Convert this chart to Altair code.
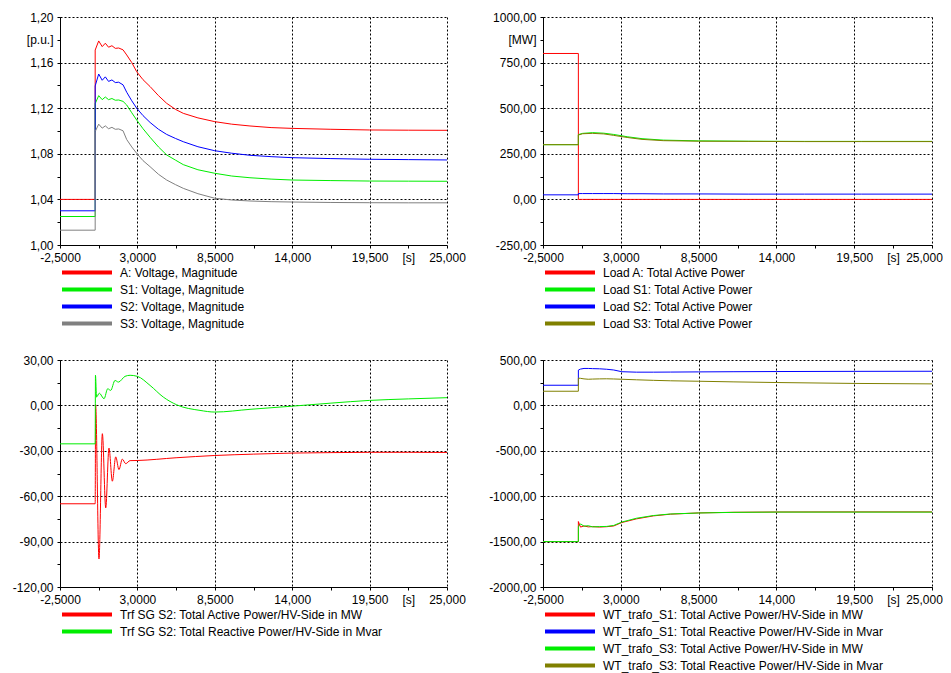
import altair as alt
import pandas as pd

FONT = "Liberation Sans"

# ---------------- axis ticks / labels ----------------
X_TICKS = [-2.5, 0.25, 3.0, 5.75, 8.5, 11.25, 14.0, 16.75, 19.5, 22.25, 25.0]
X_TEXT = ["-2,5000", "", "3,0000", "", "8,5000", "", "14,000", "", "19,500", "[s]", "25,000"]

V_TICKS = [1.00, 1.02, 1.04, 1.06, 1.08, 1.10, 1.12, 1.14, 1.16, 1.18, 1.20]
V_TEXT = ["1,00", "", "1,04", "", "1,08", "", "1,12", "", "1,16", "[p.u.]", "1,20"]

P_TICKS = [-250, -125, 0, 125, 250, 375, 500, 625, 750, 875, 1000]
P_TEXT = ["-250,00", "", "0,00", "", "250,00", "", "500,00", "", "750,00", "[MW]", "1000,00"]

SG_TICKS = [-120, -105, -90, -75, -60, -45, -30, -15, 0, 15, 30]
SG_TEXT = ["-120,00", "", "-90,00", "", "-60,00", "", "-30,00", "", "0,00", "", "30,00"]

WT_TICKS = [-2000, -1750, -1500, -1250, -1000, -750, -500, -250, 0, 250, 500]
WT_TEXT = ["-2000,00", "", "-1500,00", "", "-1000,00", "", "-500,00", "", "0,00", "", "500,00"]

# ---------------- top-left: voltages ----------------
V_NAMES = ["A: Voltage, Magnitude", "S1: Voltage, Magnitude",
           "S2: Voltage, Magnitude", "S3: Voltage, Magnitude"]
V_COLORS = ["#ff0000", "#00ee00", "#0000ff", "#808080"]
V_TIME = [-2.5, 0.0, 0.0, 0.25, 0.5, 0.72, 0.95, 1.19, 1.43, 1.67, 1.98, 2.24, 2.6, 2.95, 3.4,
          3.9, 4.5, 5.08, 5.7, 6.26, 7.3, 8.5, 9.7, 11.0, 12.5, 14.0, 16.75, 19.5, 22.25, 25.0]
V_A = [1.040, 1.040, 1.171, 1.179, 1.174, 1.177, 1.1735, 1.1748, 1.1725, 1.1728,
       1.1712, 1.1667, 1.160, 1.152, 1.145, 1.139, 1.131, 1.1243, 1.119, 1.1155,
       1.1115, 1.1082, 1.106, 1.1044, 1.103, 1.1023, 1.1015, 1.1009, 1.1007, 1.1006]
V_S1 = [1.025, 1.025, 1.124, 1.131, 1.1275, 1.1298, 1.1275, 1.1285, 1.127, 1.1272,
        1.126, 1.1228, 1.116, 1.1096, 1.102, 1.0945, 1.086, 1.079, 1.0745, 1.0705,
        1.066, 1.0629, 1.0605, 1.059, 1.0578, 1.057, 1.0565, 1.0561, 1.056, 1.0559]
V_S2 = [1.030, 1.030, 1.1395, 1.150, 1.1445, 1.1475, 1.1435, 1.1448, 1.1425, 1.1428,
        1.1405, 1.134, 1.1265, 1.120, 1.1135, 1.1075, 1.1015, 1.097, 1.0935, 1.0906,
        1.0862, 1.0827, 1.0805, 1.0787, 1.0775, 1.0766, 1.0758, 1.0752, 1.0749, 1.0746]
V_S3 = [1.013, 1.013, 1.0995, 1.106, 1.1025, 1.1045, 1.102, 1.1032, 1.1015, 1.1018,
        1.1002, 1.0925, 1.086, 1.0804, 1.074, 1.0687, 1.062, 1.057, 1.053, 1.0497,
        1.045, 1.041, 1.0395, 1.0386, 1.038, 1.0377, 1.0373, 1.0371, 1.037, 1.037]

# ---------------- top-right: load active power ----------------
P_NAMES = ["Load A: Total Active Power", "Load S1: Total Active Power",
           "Load S2: Total Active Power", "Load S3: Total Active Power"]
P_COLORS = ["#ff0000", "#00ee00", "#0000ff", "#808000"]
P_TIME = [-2.5, 0.0, 0.0, 0.3, 1.0, 1.8, 2.5, 3.5, 4.5, 6.0, 8.5, 12.0, 16.0, 20.0, 25.0]
P_A = [800, 800, 0, 0, 0, 0, 0, 0, 0, 0, 0, 0, 0, 0, 0]
P_S1 = [300, 300, 355, 362, 366, 363, 356, 343, 333, 325, 321, 319, 318, 318, 318]
P_S2 = [25, 25, 32, 32, 32, 32, 32, 31, 31, 30, 30, 29, 29, 29, 29]
P_S3 = [300, 300, 353, 360, 362, 359, 351, 339, 329, 322, 319, 318, 317, 317, 317]

# ---------------- bottom-left: Trf SG S2 ----------------
SG_NAMES = ["Trf SG S2: Total Active Power/HV-Side in MW",
            "Trf SG S2: Total Reactive Power/HV-Side in Mvar"]
SG_COLORS = ["#ff0000", "#00ee00"]
SG_P_TIME = [-2.5, 0.0, 0.03, 0.27, 0.51, 0.75, 0.98, 1.22, 1.46, 1.69, 1.93, 2.17, 2.48,
             3.0, 5.75, 8.5, 11.25, 14.0, 16.75, 19.5, 22.25, 25.0]
SG_P = [-65, -65, 0.5, -101.5, -18.7, -67.7, -28.2, -50.1, -34, -42.4, -35.5, -38.5, -36.5,
        -36.4, -34.6, -33.1, -32.2, -31.5, -31.2, -31.0, -31.0, -31.1]
SG_Q_TIME = [-2.5, 0.0, 0.02, 0.1, 0.29, 0.63, 0.89, 1.1, 1.41, 1.65, 2.12, 2.48, 3.0, 3.9,
             4.84, 5.79, 7.45, 8.5, 11.0, 14.0, 16.75, 19.5, 22.25, 25.0]
SG_Q = [-25.4, -25.4, 19.9, 5.5, 8.1, 4.4, 11.0, 9.9, 16.5, 15.4, 19.2, 19.9, 19.2, 13.2,
        5.5, 0.4, -3.3, -4.4, -2.6, -0.5, 1.5, 3.3, 4.3, 5.1]

# ---------------- bottom-right: WT transformers ----------------
WT_NAMES = ["WT_trafo_S1: Total Active Power/HV-Side in MW",
            "WT_trafo_S1: Total Reactive Power/HV-Side in Mvar",
            "WT_trafo_S3: Total Active Power/HV-Side in MW",
            "WT_trafo_S3: Total Reactive Power/HV-Side in Mvar"]
WT_COLORS = ["#ff0000", "#0000ff", "#00ee00", "#808000"]
WT_TIME = [-2.5, 0.0, 0.0, 0.15, 0.4, 0.7, 1.0, 1.5, 2.0, 2.5, 3.07, 4.1, 5.3, 6.5, 8.5,
           11.0, 14.0, 19.5, 25.0]
WT_P1 = [-1500, -1500, -1279, -1340, -1328, -1338, -1335, -1340, -1336, -1328, -1290,
         -1250, -1217, -1198, -1184, -1177, -1174, -1173, -1173]
WT_Q1 = [222, 222, 389, 400, 407, 407, 405, 403, 398, 390, 371, 366, 366, 367, 369, 371,
         373, 375, 376]
WT_P3 = [-1500, -1500, -1335, -1305, -1330, -1325, -1338, -1335, -1333, -1322, -1285,
         -1243, -1213, -1196, -1185, -1178, -1175, -1175, -1175]
WT_Q3 = [156, 156, 300, 298, 292, 288, 290, 292, 293, 291, 288, 282, 276, 271, 266, 259,
         252, 242, 237]


def near(v):
    return f"abs(datum.value - ({v})) < 1e-6"


def label_expr(vals, texts):
    parts = [f"{near(v)} ? '{t}'" for v, t in zip(vals, texts) if t]
    return " : ".join(parts) + " : ''"


def major_test(vals, texts):
    return " || ".join(near(v) for v, t in zip(vals, texts) if t and not t.startswith("["))


def cond_num(test, a, b):
    return {"condition": {"test": test, "value": a}, "value": b}


def panel(series, names, colors, yvals, ytexts, width, height, right_col, interp):
    frames = []
    for name, (tt, vv) in zip(names, series):
        frames.append(pd.DataFrame({"t": tt, "v": vv, "s": name, "i": list(range(len(tt)))}))
    df = pd.concat(frames, ignore_index=True)

    x_axis = alt.Axis(
        values=X_TICKS, labelExpr=label_expr(X_TICKS, X_TEXT), title=None,
        gridOpacity=cond_num(major_test(X_TICKS, X_TEXT), 1, 0),
        labelOffset=cond_num(near(25.0), -8, 0) if right_col else 0,
        labelFlush=False, labelOverlap=False,
    )
    y_axis = alt.Axis(
        values=yvals, labelExpr=label_expr(yvals, ytexts), title=None,
        gridOpacity=cond_num(major_test(yvals, ytexts), 1, 0),
        labelOverlap=False, labelFlush=False, minExtent=48,
    )
    legend = alt.Legend(
        title=None, orient="none", legendX=0, legendY=height + 19, direction="vertical",
        symbolType="stroke", symbolSize=2500, symbolStrokeWidth=4, clipHeight=17,
        rowPadding=0, labelFont=FONT, labelFontSize=12, labelColor="black",
        labelOffset=6, labelLimit=0, padding=0,
    )
    return alt.Chart(df).mark_line(strokeWidth=1, clip=True, interpolate=interp).encode(
        x=alt.X("t:Q", scale=alt.Scale(domain=[-2.5, 25], nice=False, zero=False), axis=x_axis),
        y=alt.Y("v:Q", scale=alt.Scale(domain=[yvals[0], yvals[-1]], nice=False, zero=False),
                axis=y_axis),
        color=alt.Color("s:N", scale=alt.Scale(domain=names, range=colors), legend=legend),
        order=alt.Order("i:Q"),
    ).properties(width=width, height=height)


tl = panel([(V_TIME, V_A), (V_TIME, V_S1), (V_TIME, V_S2), (V_TIME, V_S3)],
           V_NAMES, V_COLORS, V_TICKS, V_TEXT, 387, 228, False, "linear")
tr = panel([(P_TIME, P_A), (P_TIME, P_S1), (P_TIME, P_S2), (P_TIME, P_S3)],
           P_NAMES, P_COLORS, P_TICKS, P_TEXT, 389, 228, True, "linear")
bl = panel([(SG_P_TIME, SG_P), (SG_Q_TIME, SG_Q)],
           SG_NAMES, SG_COLORS, SG_TICKS, SG_TEXT, 387, 227, False, "monotone")
br = panel([(WT_TIME, WT_P1), (WT_TIME, WT_Q1), (WT_TIME, WT_P3), (WT_TIME, WT_Q3)],
           WT_NAMES, WT_COLORS, WT_TICKS, WT_TEXT, 389, 227, True, "linear")

chart = alt.concat(
    tl, tr, bl, br, columns=2, spacing={"row": 115, "column": 96}, bounds="flush"
).resolve_scale(
    color="independent"
).resolve_legend(
    color="independent"
).properties(
    padding={"left": 4, "top": 3, "right": 0, "bottom": 0}
).configure_view(
    strokeWidth=0
).configure_axis(
    labelFont=FONT, labelFontSize=12, labelColor="black", tickColor="black", tickSize=3,
    labelPadding=4, domainColor="black", domainWidth=1, gridColor="black",
    gridDash=[2, 2], gridWidth=1,
)

chart.save("out.html", embed_options={"renderer": "svg", "actions": False})
